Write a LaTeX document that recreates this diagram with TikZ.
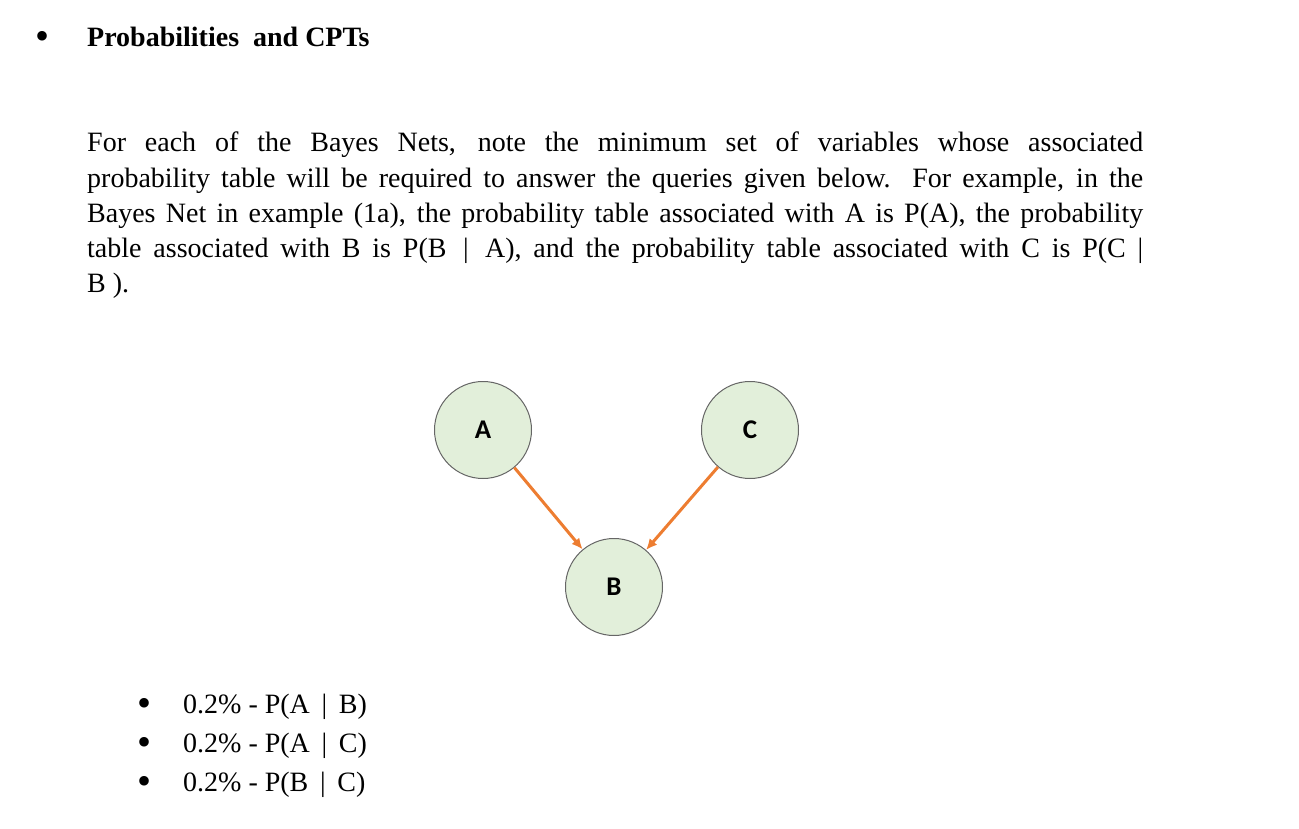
\documentclass[tikz,border=0pt]{standalone}
\usepackage{fontspec}
\setmainfont{Liberation Serif}
\newfontfamily\nodefont{Carlito}
\usetikzlibrary{arrows.meta}
\begin{document}
\begin{tikzpicture}[x=1pt,y=-1pt,
  bn/.style={circle,draw=black!60,line width=1pt,fill={rgb,255:red,226;green,239;blue,218},minimum size=97pt,inner sep=0pt,font=\nodefont\bfseries\fontsize{27}{30}\selectfont},
  edge/.style={draw={rgb,255:red,237;green,125;blue,49},line width=3pt,-{Latex[length=11pt,width=10pt]}},
  txt/.style={anchor=base west,inner sep=0pt,font=\fontsize{28}{35}\selectfont},
  bul/.style={anchor=base west,inner sep=0pt,font=\fontsize{40}{35}\selectfont}]
\useasboundingbox (0,0) rectangle (1299,829);
\node[bul] (b0) at (35,50) {\textbullet};
\node[txt] (title) at (87,47) {\bfseries Probabilities\ \ and CPTs};
\node[anchor=north west,inner sep=0pt,text width=1056pt,align=justify,font=\fontsize{28}{35.2}\selectfont] (para) at (87,132) {%
For each of the Bayes Nets, note the minimum set of variables whose associated\linebreak
probability table will be required to answer the queries given below. For example, in the\linebreak
Bayes Net in example (1a), the probability table associated with A is P(A), the probability\linebreak
table associated with B is P(B \,\textbar\,\ A), and the probability table associated with C is P(C \textbar\linebreak
B ).};
\node[bn] (A) at (483,430) {A};
\node[bn] (C) at (750,430) {C};
\node[bn] (B) at (614,587) {B};
\draw[edge] (A) -- (B);
\draw[edge] (C) -- (B);
\node[bul] (l1b) at (137,716) {\textbullet};
\node[txt] (l1) at (183,713) {0.2\% - P(A \,\textbar\,\ B)};
\node[bul] (l2b) at (137,755) {\textbullet};
\node[txt] (l2) at (183,752) {0.2\% - P(A \,\textbar\,\ C)};
\node[bul] (l3b) at (137,794) {\textbullet};
\node[txt] (l3) at (183,791) {0.2\% - P(B \,\textbar\,\ C)};
\end{tikzpicture}
\end{document}
